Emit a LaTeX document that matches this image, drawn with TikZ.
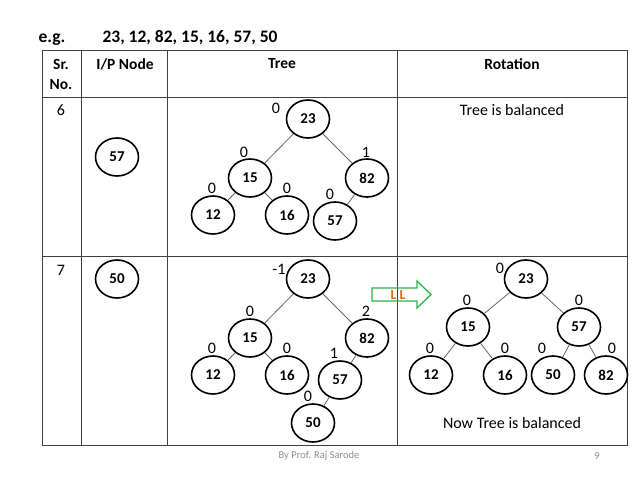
\documentclass[tikz,border=0pt]{standalone}
\usepackage{fontspec}
\setmainfont{Carlito}
\usetikzlibrary{shapes.geometric}
\definecolor{rule}{HTML}{404040}
\definecolor{arrowgreen}{HTML}{2DB34A}
\definecolor{llorange}{HTML}{E46C0A}
\definecolor{footgray}{HTML}{8C8C8C}
\begin{document}
\begin{tikzpicture}[x=1pt,y=-1pt,
  avl/.style={draw, ellipse, line width=1.6pt, minimum width=43pt, minimum height=38pt,
    inner sep=0pt, font=\fontsize{15}{18}\selectfont\bfseries},
  bal/.style={inner sep=0pt, font=\fontsize{16}{19}\selectfont},
  txt/.style={font=\fontsize{16}{19}\selectfont},
  hd/.style={font=\fontsize{15.5}{20}\selectfont\bfseries, align=center},
  link/.style={draw=black!60, line width=0.8pt}]
  \useasboundingbox (0,0) rectangle (638,478);
  % heading
  \node[font=\fontsize{17.5}{20}\selectfont\bfseries, anchor=base] (eg) at (52,43) {e.g.};
  \node[font=\fontsize{17.5}{20}\selectfont\bfseries, anchor=base] (seq) at (190,43) {23, 12, 82, 15, 16, 57, 50};
  % table
  \draw[rule, line width=1pt] (42,51) rectangle (627,446);
  \draw[rule, line width=1pt] (42,98) -- (627,98);
  \draw[rule, line width=1pt] (42,257) -- (627,257);
  \draw[rule, line width=1pt] (81,51) -- (81,446);
  \draw[rule, line width=1pt] (167,51) -- (167,446);
  \draw[rule, line width=1pt] (397,51) -- (397,446);
  \node[hd] (hsr) at (61,74) {Sr.\\No.};
  \node[hd] (hip) at (125,64) {I/P Node};
  \node[hd] (htree) at (282,64) {Tree};
  \node[hd] (hrot) at (512,64) {Rotation};
  % row 6
  \node[txt] (n6) at (61,110) {6};
  \node[avl] (in57) at (117,157) {57};
  \node[avl] (a23) at (308,119) {23};
  \node[avl] (a15) at (250,178) {15};
  \node[avl] (a82) at (367,178) {82};
  \node[avl] (a12) at (213,215) {12};
  \node[avl] (a16) at (287,215) {16};
  \node[avl] (a57) at (335,221) {57};
  \draw[link] (a23) -- (a15);
  \draw[link] (a23) -- (a82);
  \draw[link] (a15) -- (a12);
  \draw[link] (a15) -- (a16);
  \draw[link] (a82) -- (a57);
  \node[bal] (ba23) at (276,108) {0};
  \node[bal] (ba15) at (244,152) {0};
  \node[bal] (ba82) at (366,152) {1};
  \node[bal] (ba12) at (212,188) {0};
  \node[bal] (ba16) at (287,188) {0};
  \node[bal] (ba57) at (330,194) {0};
  \node[txt] (msg6) at (512,110) {Tree is balanced};
  % row 7
  \node[txt] (n7) at (61,270) {7};
  \node[avl] (in50) at (117,279) {50};
  \node[avl] (b23) at (308,279) {23};
  \node[avl] (b15) at (250,338) {15};
  \node[avl] (b82) at (367,338) {82};
  \node[avl] (b12) at (213,375) {12};
  \node[avl] (b16) at (287,375) {16};
  \node[avl] (b57) at (340,380) {57};
  \node[avl] (b50) at (313,423) {50};
  \draw[link] (b23) -- (b15);
  \draw[link] (b23) -- (b82);
  \draw[link] (b15) -- (b12);
  \draw[link] (b15) -- (b16);
  \draw[link] (b82) -- (b57);
  \draw[link] (b57) -- (b50);
  \node[bal] (bb23) at (279,269) {-1};
  \node[bal] (bb15) at (250,311) {0};
  \node[bal] (bb82) at (366,311) {2};
  \node[bal] (bb12) at (212,348) {0};
  \node[bal] (bb16) at (287,348) {0};
  \node[bal] (bb57) at (334,353) {1};
  \node[bal] (bb50) at (308,396) {0};
  % LL arrow
  \draw[arrowgreen, line width=1.3pt] (372,288) -- (417,288) -- (417,281) -- (431,294.5)
    -- (417,308) -- (417,301) -- (372,301) -- cycle;
  \node[font=\fontsize{14}{16}\selectfont\bfseries, text=llorange, inner sep=0pt] (ll) at (398,295) {L L};
  % rotated tree
  \node[avl] (r23) at (526,279) {23};
  \node[avl] (r15) at (468,327) {15};
  \node[avl] (r57) at (579,327) {57};
  \node[avl] (r12) at (431,375) {12};
  \node[avl] (r16) at (505,375) {16};
  \node[avl] (r50) at (553,375) {50};
  \node[avl] (r82) at (606,375) {82};
  \draw[link] (r23) -- (r15);
  \draw[link] (r23) -- (r57);
  \draw[link] (r15) -- (r12);
  \draw[link] (r15) -- (r16);
  \draw[link] (r57) -- (r50);
  \draw[link] (r57) -- (r82);
  \node[bal] (br23) at (500,268) {0};
  \node[bal] (br15) at (467,300) {0};
  \node[bal] (br57) at (579,300) {0};
  \node[bal] (br12) at (430,348) {0};
  \node[bal] (br16) at (505,348) {0};
  \node[bal] (br50) at (542,348) {0};
  \node[bal] (br82) at (612,348) {0};
  \node[txt] (msg7) at (512,423) {Now Tree is balanced};
  % footer
  \node[font=\fontsize{10.5}{12}\selectfont, text=footgray] (by) at (319,456) {By Prof. Raj Sarode};
  \node[font=\fontsize{10.5}{12}\selectfont, text=footgray] (pg) at (597,456) {9};
\end{tikzpicture}
\end{document}
